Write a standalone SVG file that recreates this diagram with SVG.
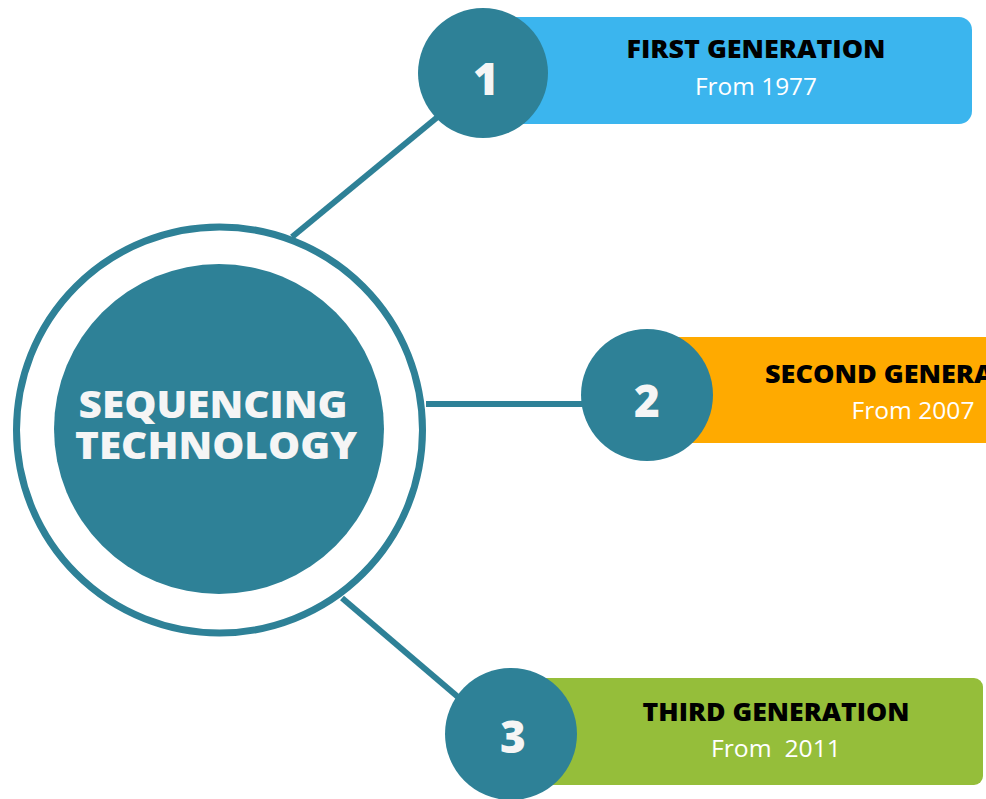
<svg xmlns="http://www.w3.org/2000/svg" width="986" height="799" viewBox="0 0 986 799">
<style>
.teal{fill:#2E8197}
.conn{stroke:#2E8197;stroke-width:6;fill:none}
.title{font-family:"Open Sans","Liberation Sans",sans-serif;font-weight:800;font-size:25px;fill:#000;text-anchor:middle}
.sub{font-family:"Open Sans","Liberation Sans",sans-serif;font-size:24px;fill:#fff;text-anchor:middle}
.num{font-family:"Open Sans","Liberation Sans",sans-serif;font-weight:800;font-size:44px;fill:#F5F5F5;text-anchor:middle}
.center{font-family:"Open Sans","Liberation Sans",sans-serif;font-weight:800;font-size:37px;fill:#F5F5F5;text-anchor:middle}
</style>
<rect width="986" height="799" fill="#fff"/>
<g id="connectors">
<line class="conn" x1="292" y1="237" x2="440" y2="115"/>
<line class="conn" x1="426" y1="404" x2="585" y2="404"/>
<line class="conn" x1="342" y1="598" x2="458" y2="697"/>
</g>
<g id="center">
<circle cx="219.5" cy="430" r="203" fill="#fff" stroke="#2E8197" stroke-width="7"/>
<circle class="teal" cx="219" cy="429" r="165"/>
<text class="center" x="213" y="418" textLength="269" lengthAdjust="spacingAndGlyphs">SEQUENCING</text>
<text class="center" x="216" y="459" textLength="282" lengthAdjust="spacingAndGlyphs">TECHNOLOGY</text>
</g>
<g id="node1">
<rect x="500" y="17" width="472" height="107" rx="13" fill="#3BB5EE"/>
<circle class="teal" cx="483" cy="73" r="65"/>
<text class="num" x="486" y="95">1</text>
<text class="title" x="756" y="58" textLength="259" lengthAdjust="spacingAndGlyphs">FIRST GENERATION</text>
<text class="sub" x="756" y="95" textLength="122" lengthAdjust="spacingAndGlyphs">From 1977</text>
</g>
<g id="node2">
<rect x="640" y="337" width="360" height="106" fill="#FFAA00"/>
<circle class="teal" cx="647" cy="395" r="66"/>
<text class="num" x="647" y="417">2</text>
<text class="title" x="914" y="383" textLength="298" lengthAdjust="spacingAndGlyphs">SECOND GENERATION</text>
<text class="sub" x="913" y="419" textLength="123" lengthAdjust="spacingAndGlyphs">From 2007</text>
</g>
<g id="node3">
<rect x="520" y="678" width="463" height="107" rx="9" fill="#95BE3A"/>
<circle class="teal" cx="511" cy="734" r="66"/>
<text class="num" x="513" y="753">3</text>
<text class="title" x="776" y="721" textLength="267" lengthAdjust="spacingAndGlyphs">THIRD GENERATION</text>
<text class="sub" x="776" y="757" xml:space="preserve" textLength="130" lengthAdjust="spacingAndGlyphs">From  2011</text>
</g>
</svg>
